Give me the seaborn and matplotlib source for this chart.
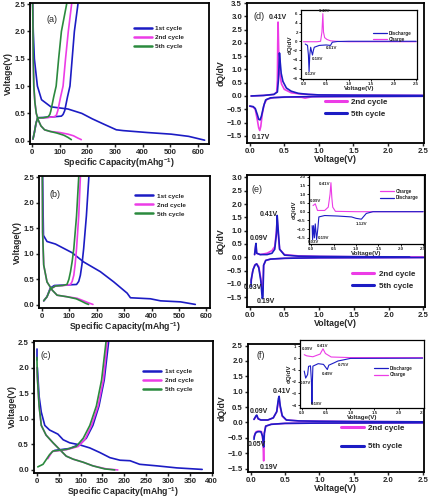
import pandas as pd
import seaborn as sns
import matplotlib.pyplot as plt
from matplotlib.lines import Line2D

BLUE = '#1c1cc4'
MAG = '#ec3ce6'
GREEN = '#2b8a3e'

# ---- galvanostatic curves: (capacity mAh/g, voltage V) ----
A1_DIS = [(2, 2.5), (4, 2.0), (8, 1.5), (19, 1.0), (34, 0.75), (68, 0.62), (130, 0.58), (180, 0.5),
          (218, 0.4), (261, 0.3), (305, 0.2), (330, 0.185), (417, 0.15), (504, 0.12), (567, 0.08), (625, 0.01)]
A1_CHG = [(3, 0.03), (8, 0.15), (14, 0.32), (20, 0.42), (60, 0.43), (106, 0.45), (112, 0.48), (118, 0.55),
          (128, 0.8), (137, 1.0), (145, 1.5), (153, 2.0), (166, 2.5)]
A2_DIS = [(2, 2.5), (3, 2.0), (4, 1.5), (6, 1.0), (10, 0.7), (15, 0.5), (22, 0.38), (32, 0.27), (45, 0.2),
          (65, 0.17), (100, 0.15), (130, 0.12), (150, 0.09), (165, 0.05), (178, 0.02)]
A2_CHG = [(3, 0.03), (8, 0.15), (14, 0.32), (20, 0.42), (50, 0.42), (82, 0.44), (88, 0.47), (93, 0.55),
          (103, 0.8), (112, 1.0), (121, 1.5), (131, 2.0), (143, 2.5)]
A5_DIS = [(2, 2.5), (3, 2.0), (4, 1.5), (6, 1.0), (10, 0.7), (15, 0.5), (22, 0.38), (32, 0.27), (45, 0.2),
          (65, 0.17), (90, 0.14), (115, 0.1), (130, 0.06), (142, 0.02)]
A5_CHG = [(3, 0.03), (8, 0.15), (14, 0.32), (20, 0.42), (40, 0.42), (58, 0.44), (64, 0.48), (68, 0.55),
          (78, 0.8), (87, 1.0), (96, 1.5), (106, 2.0), (125, 2.5)]

B1_DIS = [(2, 2.5), (5, 1.36), (18, 1.24), (49, 1.19), (110, 1.02), (152, 0.84), (213, 0.65), (262, 0.45),
          (311, 0.23), (323, 0.14), (360, 0.13), (396, 0.12), (433, 0.08), (506, 0.06), (560, 0.01)]
B1_CHG = [(6, 0.08), (18, 0.16), (30, 0.33), (45, 0.38), (90, 0.39), (126, 0.4), (134, 0.46), (140, 0.58),
          (146, 0.8), (152, 1.1), (162, 1.74), (171, 2.5)]
B2_DIS = [(1, 2.5), (2, 1.42), (6, 0.78), (18, 0.45), (37, 0.29), (55, 0.19), (91, 0.16), (128, 0.13),
          (152, 0.08), (170, 0.04), (186, 0.01)]
B2_CHG = [(6, 0.08), (18, 0.16), (30, 0.31), (49, 0.37), (80, 0.38), (104, 0.4), (110, 0.46), (116, 0.58),
          (121, 0.8), (126, 1.1), (134, 1.74), (140, 2.5)]
B5_DIS = [(1, 2.5), (2, 1.42), (6, 0.78), (18, 0.45), (37, 0.29), (55, 0.19), (91, 0.16), (125, 0.12),
          (145, 0.07), (160, 0.03), (170, 0.01)]
B5_CHG = [(6, 0.08), (18, 0.16), (30, 0.31), (49, 0.37), (75, 0.38), (91, 0.4), (98, 0.5), (104, 0.65),
          (110, 0.85), (116, 1.1), (126, 1.74), (134, 2.5)]

C1_DIS = [(1, 2.0), (5, 1.44), (10, 1.13), (18, 0.87), (29, 0.78), (48, 0.7), (60, 0.59), (75, 0.53),
          (98, 0.49), (121, 0.43), (144, 0.34), (167, 0.24), (190, 0.19), (213, 0.18), (235, 0.11),
          (274, 0.08), (320, 0.04), (378, 0.01)]
C1_TOP = [(1, 2.36), (1, 2.14)]
C1_CHG = [(40, 0.38), (75, 0.42), (98, 0.5), (113, 0.62), (128, 0.87), (142, 1.25), (154, 1.76), (164, 2.5)]
C2_DIS = [(0, 2.0), (1, 1.82), (5, 1.25), (10, 0.87), (21, 0.68), (37, 0.53), (52, 0.4), (67, 0.27),
          (83, 0.21), (106, 0.15), (128, 0.08), (159, 0.02), (185, 0.0)]
C2_CHG = [(25, 0.22), (35, 0.36), (70, 0.4), (95, 0.46), (110, 0.6), (125, 0.87), (140, 1.25), (152, 1.76),
          (161, 2.5)]
C5_DIS = [(0, 2.2), (1, 1.82), (5, 1.25), (10, 0.87), (21, 0.68), (37, 0.53), (52, 0.4), (67, 0.27),
          (83, 0.21), (106, 0.15), (128, 0.08), (155, 0.02), (178, 0.0)]
C5_CHG = [(2, 0.06), (14, 0.11), (29, 0.3), (37, 0.37), (67, 0.4), (90, 0.46), (106, 0.62), (121, 0.87),
          (136, 1.25), (148, 1.76), (158, 2.5)]

# ---- differential capacity: (voltage V, dQ/dV) ----
D2_CHG = [(0.02, 0.0), (0.2, 0.02), (0.35, 0.06), (0.39, 0.15), (0.40, 0.6), (0.405, 2.0), (0.41, 2.78),
          (0.42, 1.6), (0.43, 0.9), (0.46, 0.45), (0.5, 0.25), (0.6, 0.12), (0.75, 0.07), (1.0, 0.04),
          (1.5, 0.03), (2.5, 0.02)]
D5_CHG = [(0.02, 0.0), (0.2, 0.02), (0.35, 0.06), (0.4, 0.15), (0.415, 0.6), (0.425, 1.2), (0.43, 1.62),
          (0.44, 1.3), (0.455, 0.85), (0.48, 0.55), (0.53, 0.3), (0.6, 0.18), (0.7, 0.1), (0.85, 0.06),
          (1.0, 0.04), (1.5, 0.03), (2.5, 0.02)]
D2_DIS = [(0.0, -0.38), (0.05, -0.42), (0.08, -0.5), (0.11, -0.9), (0.13, -1.2), (0.145, -1.3),
          (0.16, -1.15), (0.18, -0.7), (0.21, -0.3), (0.25, -0.12), (0.35, -0.06), (0.6, -0.04),
          (0.75, -0.05), (0.8, -0.08), (0.9, -0.03), (1.5, -0.02), (2.5, -0.01)]
D5_DIS = [(0.0, -0.38), (0.05, -0.4), (0.08, -0.47), (0.11, -0.7), (0.13, -0.88), (0.15, -0.9),
          (0.17, -0.75), (0.2, -0.4), (0.23, -0.15), (0.3, -0.07), (0.5, -0.04), (1.0, -0.02), (2.5, -0.01)]
DI_CHG = [(0.0, -0.1), (0.3, -0.1), (0.38, 0.0), (0.41, 2.0), (0.43, 6.0), (0.445, 2.0), (0.47, 0.8),
          (0.52, 0.4), (0.6, 0.1), (0.8, -0.05), (1.0, -0.1), (2.5, -0.1)]
DI_DIS = [(0.04, -0.6), (0.09, -0.9), (0.11, -3.0), (0.125, -6.6), (0.14, -3.0), (0.16, -1.3),
          (0.18, -2.2), (0.2, -3.0), (0.22, -2.0), (0.24, -1.3), (0.35, -0.9), (0.5, -0.8), (0.6, -0.9),
          (0.64, -0.2), (0.75, -0.05), (1.0, 0.0), (2.5, 0.0)]

E2_CHG = [(0.07, 0.1), (0.085, 0.4), (0.09, 0.45), (0.1, 0.15), (0.15, 0.1), (0.25, 0.15), (0.32, 0.25),
          (0.36, 0.4), (0.385, 1.0), (0.395, 1.45), (0.405, 1.0), (0.43, 0.3), (0.5, 0.1), (0.7, 0.05),
          (1.0, 0.03), (1.5, 0.02), (2.5, 0.01)]
E5_CHG = [(0.07, 0.1), (0.085, 0.45), (0.09, 0.52), (0.1, 0.15), (0.15, 0.1), (0.25, 0.1), (0.32, 0.15),
          (0.36, 0.3), (0.385, 0.9), (0.395, 1.57), (0.405, 1.2), (0.43, 0.3), (0.5, 0.08), (0.7, 0.04),
          (1.0, 0.03), (1.5, 0.02), (2.3, 0.01)]
E2_DIS = [(0.02, -0.95), (0.04, -0.55), (0.07, -0.3), (0.1, -0.25), (0.13, -0.35), (0.16, -0.8),
          (0.18, -1.3), (0.19, -1.2), (0.2, -0.3), (0.23, -0.12), (0.3, -0.07), (0.5, -0.04), (1.0, -0.02),
          (2.5, -0.01)]
E5_DIS = [(0.02, -1.1), (0.02, -0.85), (0.05, -0.45), (0.08, -0.28), (0.1, -0.25), (0.13, -0.4),
          (0.16, -0.9), (0.18, -1.55), (0.19, -1.5), (0.2, -0.3), (0.23, -0.12), (0.3, -0.07), (0.5, -0.04),
          (1.0, -0.02), (2.5, -0.01)]
EI_CHG = [(0.04, 0.35), (0.09, 0.45), (0.14, 0.07), (0.3, 0.07), (0.38, 0.26), (0.42, 1.0), (0.44, 1.66),
          (0.46, 0.8), (0.48, 0.26), (0.54, 0.02), (1.0, 0.0), (2.5, 0.0)]
EI_DIS = [(0.02, -0.8), (0.03, -1.6), (0.05, -0.8), (0.07, -1.5), (0.09, -0.7), (0.12, -1.6),
          (0.15, -0.9), (0.17, -0.3), (0.3, -0.22), (0.6, -0.25), (0.9, -0.3), (1.0, -0.38), (1.12, -0.43),
          (1.23, -0.1), (1.38, 0.0), (2.5, 0.0)]

F2_CHG = [(0.05, 0.1), (0.08, 0.2), (0.09, 0.22), (0.11, 0.12), (0.15, 0.08), (0.25, 0.08), (0.33, 0.15),
          (0.38, 0.35), (0.405, 0.7), (0.415, 0.75), (0.43, 0.5), (0.46, 0.2), (0.52, 0.08), (0.7, 0.05),
          (1.0, 0.04), (1.5, 0.03), (2.5, 0.02)]
F5_CHG = [(0.05, 0.1), (0.08, 0.22), (0.09, 0.24), (0.11, 0.12), (0.15, 0.08), (0.25, 0.08), (0.33, 0.15),
          (0.38, 0.35), (0.405, 0.78), (0.415, 0.85), (0.43, 0.55), (0.46, 0.22), (0.52, 0.08), (0.7, 0.05),
          (1.0, 0.04), (1.5, 0.03), (2.5, 0.02)]
F2_DIS = [(0.05, -0.5), (0.06, -0.4), (0.08, -0.3), (0.12, -0.28), (0.16, -0.3), (0.18, -0.6),
          (0.19, -1.25), (0.2, -0.35), (0.22, -0.12), (0.3, -0.06), (0.5, -0.03), (1.0, -0.02), (2.5, -0.01)]
F5_DIS = [(0.05, -0.55), (0.055, -0.45), (0.07, -0.35), (0.1, -0.3), (0.15, -0.3), (0.175, -0.45),
          (0.19, -0.8), (0.2, -0.35), (0.22, -0.12), (0.3, -0.06), (0.5, -0.03), (1.0, -0.02), (2.5, -0.01)]
FI_CHG = [(0.04, 0.3), (0.09, 0.2), (0.22, 0.12), (0.37, 0.35), (0.43, 0.8), (0.48, 0.4), (0.6, 0.1),
          (1.0, 0.05), (2.5, 0.05)]
FI_DIS = [(0.04, -1.1), (0.07, -1.7), (0.11, -1.4), (0.13, -0.7), (0.17, -0.65), (0.19, -2.0), (0.2, -3.9),
          (0.21, -2.0), (0.22, -0.68), (0.33, -0.47), (0.44, -0.53), (0.52, -0.97), (0.55, -0.6),
          (0.67, -0.38), (0.74, -0.24), (0.85, -0.15), (1.0, -0.02), (2.5, 0.0)]

GALV_LABELS = ['1st cycle', '2nd cycle', '5th cycle']
DQ_LABELS = ['2nd cycle', '5th cycle']

sns.set_style('ticks')
plt.rcParams['font.family'] = ['Liberation Sans', 'DejaVu Sans']
plt.rcParams['font.weight'] = 'bold'
plt.rcParams['axes.labelweight'] = 'bold'
plt.rcParams['mathtext.default'] = 'regular'

fig = plt.figure(figsize=(4.34, 5.0), dpi=100)


def curve(ax, pts, color, lw=1.2):
    df = pd.DataFrame(pts, columns=['x', 'y'])
    sns.lineplot(data=df, x='x', y='y', sort=False, estimator=None, color=color, lw=lw, ax=ax)


def frame(ax, fs, width, tlen):
    for s in ax.spines.values():
        s.set_linewidth(width)
        s.set_color('black')
    ax.tick_params(labelsize=fs, width=width * 0.8, length=tlen, pad=1, direction='out')


def galv(rect, curves, xlim, xticks, tag, tagpos, legpos):
    ax = fig.add_axes(rect)
    for pts, col in curves:
        curve(ax, pts, col)
    ax.set_xlim(xlim)
    ax.set_ylim(-0.06, 2.52)
    ax.set_xticks(xticks)
    ax.set_yticks([0, 0.5, 1.0, 1.5, 2.0, 2.5])
    ax.yaxis.set_major_formatter('{x:.1f}')
    frame(ax, 5.6, 1.3, 2.5)
    ax.set_xlabel('Specific Capacity(mAhg$^{-1}$)', fontsize=6.3, labelpad=0)
    ax.set_ylabel('Voltage(V)', fontsize=6.3, labelpad=1)
    ax.text(tagpos[0], tagpos[1], tag, fontsize=6.5, weight='normal', ha='center', va='center')
    hs = [Line2D([], [], color=c, lw=1.8) for c in (BLUE, MAG, GREEN)]
    ax.legend(hs, GALV_LABELS, loc='upper left', bbox_to_anchor=legpos, frameon=False, fontsize=4.6,
              handlelength=2.9, labelspacing=0.55, borderpad=0, handletextpad=0.5, borderaxespad=0)
    return ax


def dqdv(rect, curves, ylim, yticks, tag, tagpos, notes, legpos, spacing):
    ax = fig.add_axes(rect)
    for pts, col in curves:
        curve(ax, pts, col)
    ax.set_xlim(-0.04, 2.52)
    ax.set_ylim(ylim)
    ax.set_xticks([0, 0.5, 1.0, 1.5, 2.0, 2.5])
    ax.set_yticks(yticks)
    ax.xaxis.set_major_formatter('{x:.1f}')
    ax.yaxis.set_major_formatter('{x:.1f}')
    frame(ax, 5.6, 1.3, 2.5)
    ax.set_xlabel('Voltage(V)', fontsize=6.3, labelpad=0)
    ax.set_ylabel('dQ/dV', fontsize=6.3, labelpad=1)
    ax.text(tagpos[0], tagpos[1], tag, fontsize=6.5, weight='normal', ha='center', va='center')
    for x, y, s in notes:
        ax.text(x, y, s, fontsize=5, ha='center', va='center')
    hs = [Line2D([], [], color=c, lw=2.2) for c in (MAG, BLUE)]
    ax.legend(hs, DQ_LABELS, loc='upper left', bbox_to_anchor=legpos, frameon=False, fontsize=5.8,
              handlelength=2.8, labelspacing=spacing, borderpad=0, handletextpad=0.5, borderaxespad=0)
    return ax


def inset(rect, curves, ylim, yticks, yfmt, notes, labels, colors, legpos):
    ax = fig.add_axes(rect)
    for pts, col in curves:
        curve(ax, pts, col, lw=0.8)
    ax.set_xlim(-0.05, 2.52)
    ax.set_ylim(ylim)
    ax.set_xticks([0, 0.5, 1.0, 1.5, 2.0, 2.5])
    ax.set_yticks(yticks)
    ax.xaxis.set_major_formatter('{x:.1f}')
    ax.yaxis.set_major_formatter(yfmt)
    frame(ax, 3.2, 0.9, 1.5)
    ax.set_xlabel('Voltage(V)', fontsize=4.5, labelpad=0)
    ax.set_ylabel('dQ/dV', fontsize=4.5, labelpad=0)
    for x, y, s in notes:
        ax.text(x, y, s, fontsize=3.2, ha='center', va='center')
    hs = [Line2D([], [], color=c, lw=0.9) for c in colors]
    ax.legend(hs, labels, loc='upper left', bbox_to_anchor=legpos, frameon=False, fontsize=3.3,
              handlelength=3, labelspacing=0.3, borderpad=0, handletextpad=0.4, borderaxespad=0)
    return ax


# left column: charge/discharge profiles
galv([0.069, 0.712, 0.412, 0.282],
     [(A1_DIS, BLUE), (A1_CHG, BLUE), (A2_DIS, MAG), (A2_CHG, MAG), (A5_DIS, GREEN), (A5_CHG, GREEN)],
     (-8, 640), [0, 100, 200, 300, 400, 500, 600], '(a)', (71, 2.22), (0.58, 0.84))
galv([0.09, 0.384, 0.394, 0.264],
     [(B1_DIS, BLUE), (B1_CHG, BLUE), (B2_DIS, MAG), (B2_CHG, MAG), (B5_DIS, GREEN), (B5_CHG, GREEN)],
     (-11, 614), [0, 100, 200, 300, 400, 500, 600], '(b)', (49, 2.16), (0.56, 0.87))
galv([0.078, 0.054, 0.412, 0.264],
     [(C1_DIS, BLUE), (C1_TOP, BLUE), (C2_DIS, MAG), (C5_DIS, GREEN), (C1_CHG, BLUE), (C2_CHG, MAG),
      (C5_CHG, GREEN)],
     (-7, 402), [0, 50, 100, 150, 200, 250, 300, 350, 400], '(c)', (21, 2.23), (0.61, 0.79))

# right column: dQ/dV
dqdv([0.569, 0.714, 0.408, 0.28], [(D2_CHG, MAG), (D2_DIS, MAG), (D5_CHG, BLUE), (D5_DIS, BLUE)],
     (-1.77, 3.5), [-1.5, -1.0, -0.5, 0, 0.5, 1.0, 1.5, 2.0, 2.5, 3.0, 3.5], '(d)', (0.13, 2.99),
     [(0.41, 2.95, '0.41V'), (0.16, -1.55, '0.17V')], (0.44, 0.32), 0.5)
dqdv([0.569, 0.386, 0.41, 0.264], [(E2_CHG, MAG), (E2_DIS, MAG), (E5_CHG, BLUE), (E5_DIS, BLUE)],
     (-1.87, 3.09), [-1.5, -1.0, -0.5, 0, 0.5, 1.0, 1.5, 2.0, 2.5, 3.0], '(e)', (0.11, 2.56),
     [(0.27, 1.6, '0.41V'), (0.13, 0.72, '0.09V'), (0.04, -1.12, '0.03V'), (0.23, -1.66, '0.19V')],
     (0.59, 0.28), 0.55)
dqdv([0.571, 0.056, 0.406, 0.256], [(F2_CHG, MAG), (F2_DIS, MAG), (F5_CHG, BLUE), (F5_DIS, BLUE)],
     (-1.61, 2.55), [-1.5, -1.0, -0.5, 0, 0.5, 1.0, 1.5, 2.0, 2.5], '(f)', (0.15, 2.18),
     [(0.46, 1.0, '0.41V'), (0.12, 0.36, '0.09V'), (0.09, -0.72, '0.05V'), (0.27, -1.45, '0.19V')],
     (0.53, 0.37), 1.3)

# insets
inset([0.694, 0.842, 0.267, 0.138], [(DI_CHG, MAG), (DI_DIS, BLUE)], (-8.2, 6.8),
      [-8, -6, -4, -2, 0, 2, 4, 6], '{x:.0f}',
      [(0.46, 6.6, '0.43V'), (0.31, -3.8, '0.18V'), (0.16, -7.2, '0.12V'), (0.63, -1.4, '0.61V')],
      ['Discharge', 'Charge'], [BLUE, MAG], (0.62, 0.7))
inset([0.712, 0.512, 0.265, 0.138], [(EI_CHG, MAG), (EI_DIS, BLUE)], (-1.85, 2.1),
      [-1.5, -1.0, -0.5, 0, 0.5, 1.0, 1.5, 2.0], '{x:.1f}',
      [(0.3, 1.6, '0.41V'), (0.09, 0.62, '0.09V'), (0.06, -1.72, '0.03V'), (0.28, -1.5, '0.19V'),
       (1.12, -0.72, '1.12V')],
      ['Charge', 'Discharge'], [MAG, BLUE], (0.62, 0.8))
inset([0.691, 0.184, 0.285, 0.136], [(FI_CHG, MAG), (FI_DIS, BLUE)], (-4.25, 1.55),
      [-4, -3, -2, -1, 0, 1], '{x:.0f}',
      [(0.43, 1.05, '0.41V'), (0.1, 0.8, '0.09V'), (0.07, -2.1, '0.07V'), (0.3, -3.9, '0.18V'),
       (0.52, -1.35, '0.49V'), (0.85, -0.6, '0.75V')],
      ['Discharge', 'Charge'], [BLUE, MAG], (0.6, 0.62))

fig.savefig('out.png', dpi=100, facecolor='white')
